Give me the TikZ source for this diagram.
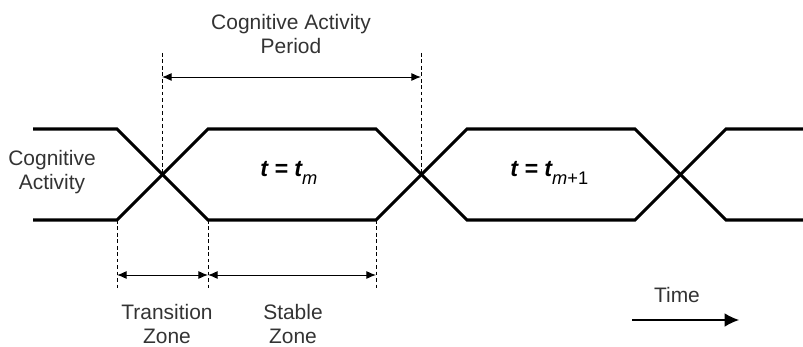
\documentclass[tikz,border=0pt]{standalone}
\usepackage{fontspec}
\setmainfont{Liberation Sans}
\usetikzlibrary{arrows.meta,positioning}

\begin{document}
\begin{tikzpicture}[x=0.025cm,y=-0.025cm,>=Latex,
signal/.style={line width=2.2pt,line join=miter},
guide/.style={line width=0.6pt,dash pattern={on 2.6pt off 2pt}},
span/.style={{Latex[length=2.4mm,width=2mm]}-{Latex[length=2.4mm,width=2mm]},line width=0.7pt},
caption/.style={align=center,font=\fontsize{14.9}{16.6}\selectfont,text=black!80,inner sep=0pt},
state label/.style={font=\fontsize{16.5}{20}\selectfont\bfseries\itshape,inner sep=0pt}]
\useasboundingbox (0,0) rectangle (803,347);
% two crossing signal traces
\draw[signal] (33,129) -- (117,129) -- (208,220) -- (376,220) -- (467,129) -- (635,129) -- (726,220) -- (803,220);
\draw[signal] (33,220) -- (117,220) -- (208,129) -- (376,129) -- (467,220) -- (635,220) -- (726,129) -- (803,129);
\coordinate (c1) at (162,175);
\coordinate (c2) at (421,175);
\coordinate (c1top) at (162,53);
\coordinate (c2top) at (421,53);
\coordinate (pa) at (162,77);
\coordinate (pb) at (421,77);
\coordinate (z1) at (117,220);
\coordinate (z2) at (208,220);
\coordinate (z3) at (376,220);
\coordinate (z1low) at (117,290);
\coordinate (z2low) at (208,290);
\coordinate (z3low) at (376,290);
\coordinate (za) at (117,275);
\coordinate (zb) at (208,275);
\coordinate (zc) at (376,275);
\coordinate (ta) at (632,320);
\coordinate (tb) at (739,320);
% dashed guides
\draw[guide] (c1top) -- (c1);
\draw[guide] (c2top) -- (c2);
\draw[guide] (z1) -- (z1low);
\draw[guide] (z2) -- (z2low);
\draw[guide] (z3) -- (z3low);
% spans
\draw[span] (pa) -- (pb);
\draw[span] (za) -- (zb);
\draw[span] (zb) -- (zc);
\draw[-{Latex[length=3.6mm,width=3.4mm]},line width=0.8pt] (ta) -- (tb);
% labels
\node[caption] (period) at (291,34) {Cognitive Activity\\Period};
\node[caption] (activity) at (52,172) {Cognitive\\Activity};
\node[caption] (transition) at (167,324) {Transition\\Zone};
\node[caption] (stable) at (293,324) {Stable\\Zone};
\node[caption] (time) at (677,295) {Time};
\node[state label,anchor=base west] (sm) at (260,177) {t = t\raisebox{-5pt}{\fontsize{13}{13}\selectfont\mdseries m}};
\node[state label,anchor=base west] (smm) at (510,177) {t = t\raisebox{-5pt}{\fontsize{13}{13}\selectfont\mdseries m\upshape+1}};
\end{tikzpicture}
\end{document}
